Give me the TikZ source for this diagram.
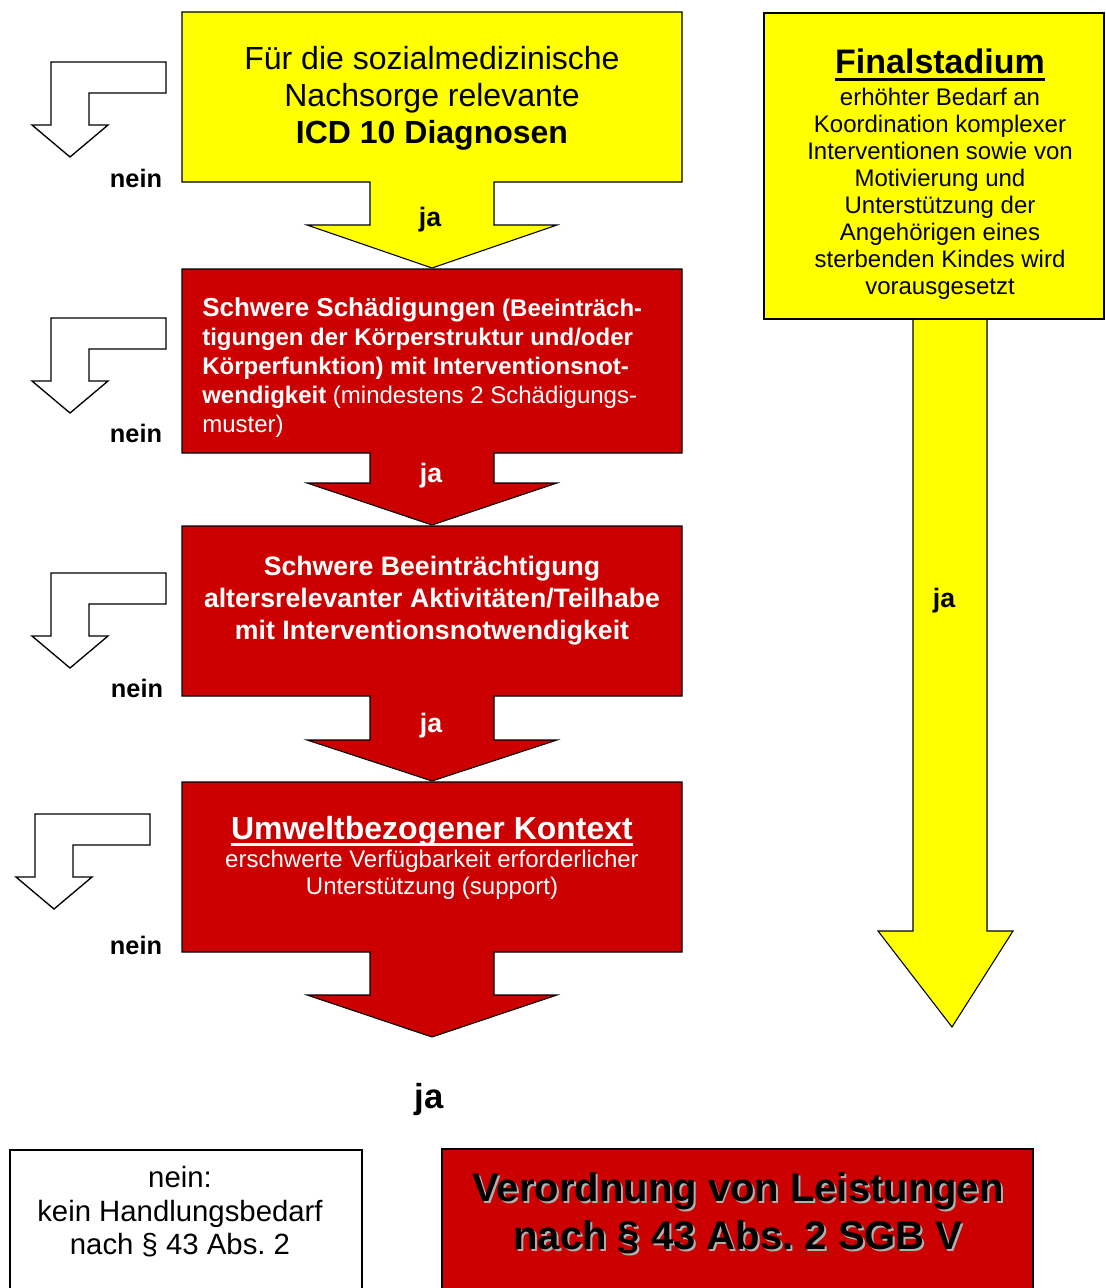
\documentclass[tikz,border=0pt]{standalone}
\usepackage{fontspec}
\setmainfont{Liberation Sans}
\definecolor{yel}{HTML}{FFFF00}
\definecolor{boxred}{HTML}{CC0000}
\definecolor{shadowgray}{HTML}{B0B0B0}
\newcommand\thickul[1]{\setbox0\hbox{#1}\rlap{\raisebox{-0.2em}{\rule{\wd0}{0.09em}}}\box0}
\frenchspacing
\begin{document}
\begin{tikzpicture}[x=0.75pt,y=-0.75pt,
  shapeline/.style={draw=black, line width=0.8pt, line join=miter},
  yshape/.style={shapeline, fill=yel},
  rshape/.style={shapeline, fill=boxred},
  bentarrow/.style={draw=black, line width=1pt, fill=white, line join=miter},
  txt/.style={inner sep=0pt, align=center},
  neinlbl/.style={inner sep=0pt, font=\fontsize{19}{22}\selectfont\bfseries},
  jalbl/.style={inner sep=0pt, font=\fontsize{20}{24}\selectfont\bfseries},
  wtxt/.style={txt, text=white}
]
\useasboundingbox (0,0) rectangle (1106,1288);

% ---- top yellow box with arrow
\path[yshape] (182,12) -- (682,12) -- (682,182) -- (494,182) -- (494,225) -- (557,225)
  -- (432,268) -- (307,225) -- (370,225) -- (370,182) -- (182,182) -- cycle;
% ---- red box 1
\path[rshape] (182,269) -- (682,269) -- (682,453) -- (494,453) -- (494,483) -- (557,483)
  -- (432,525) -- (307,483) -- (370,483) -- (370,453) -- (182,453) -- cycle;
% ---- red box 2
\path[rshape] (182,526) -- (682,526) -- (682,696) -- (494,696) -- (494,740) -- (557,740)
  -- (432,781) -- (307,740) -- (370,740) -- (370,696) -- (182,696) -- cycle;
% ---- red box 3
\path[rshape] (182,782) -- (682,782) -- (682,952) -- (494,952) -- (494,995) -- (557,995)
  -- (432,1037) -- (307,995) -- (370,995) -- (370,952) -- (182,952) -- cycle;

% ---- bent "nein" arrows
\foreach \sx/\sy in {0/0, 0/256, 0/511, -16/752}{
  \begin{scope}[shift={(\sx,\sy)}]
    \path[bentarrow] (51,62) -- (166,62) -- (166,93) -- (89,93) -- (89,125) -- (108,125)
      -- (70,157) -- (32,125) -- (51,125) -- cycle;
  \end{scope}
}

% ---- right yellow arrow and box
\path[yshape] (913,319) -- (987,319) -- (987,931) -- (1013,931) -- (952,1027)
  -- (878,931) -- (913,931) -- cycle;
\path[yshape] (764,13) rectangle (1104,319);

% ---- bottom boxes
\fill[white] (10,1150) rectangle (362,1288);
\draw[black, line width=0.8pt] (10,1288) -- (10,1150) -- (362,1150) -- (362,1288);
\fill[boxred] (442,1149) rectangle (1033,1288);
\draw[black, line width=0.8pt] (442,1288) -- (442,1149) -- (1033,1149) -- (1033,1288);
\draw[black, line width=2pt] (442,1149) -- (1033,1149);

% ---- texts
\node[txt, font=\fontsize{24}{27.75}\selectfont] (icd) at (432,98)
  {Für die sozialmedizinische\\Nachsorge relevante\\\textbf{ICD 10 Diagnosen}};
\node[jalbl] (ja1) at (430,220) {ja};
\node[neinlbl] (nein1) at (136,178) {nein};

\node[wtxt, align=left, anchor=west, font=\fontsize{18}{21.75}\selectfont] (sch) at (202,368)
  {\textbf{{\fontsize{19.5}{21.75}\selectfont Schwere Schädigungen} (Beeinträch-}\\
   \textbf{tigungen der Körperstruktur und/oder}\\
   \textbf{Körperfunktion) mit Interventionsnot-}\\
   \textbf{wendigkeit} (mindestens 2 Schädigungs-\\
   muster)};
\node[jalbl, text=white] (ja2) at (431,476) {ja};
\node[neinlbl] (nein2) at (136,433) {nein};

\node[wtxt, font=\fontsize{20}{24}\selectfont\bfseries] (akt) at (432,601)
  {Schwere Beeinträchtigung\\altersrelevanter Aktivitäten/Teilhabe\\mit Interventionsnotwendigkeit};
\node[jalbl, text=white] (ja3) at (431,726) {ja};
\node[neinlbl] (nein3) at (137,688) {nein};

\node[wtxt, font=\fontsize{24}{27}\selectfont\bfseries] (umw) at (432,831)
  {\thickul{Umweltbezogener Kontext}};
\node[wtxt, font=\fontsize{18}{20.25}\selectfont] (umwtxt) at (432,875)
  {erschwerte Verfügbarkeit erforderlicher\\Unterstützung (support)};
\node[neinlbl] (nein4) at (136,945) {nein};

\node[txt, font=\fontsize{26}{30}\selectfont\bfseries] (ja4) at (429,1100) {ja};

\node[txt, font=\fontsize{25.5}{28}\selectfont\bfseries] (fin) at (940,65)
  {\thickul{Finalstadium}};
\node[txt, font=\fontsize{18}{20.25}\selectfont] (fintxt) at (940,194)
  {erhöhter Bedarf an\\Koordination komplexer\\Interventionen sowie von\\Motivierung und\\Unterstützung der\\Angehörigen eines\\sterbenden Kindes wird\\vorausgesetzt};
\node[jalbl] (ja5) at (944,601) {ja};

\node[txt, font=\fontsize{22}{25.1}\selectfont] (neintxt) at (180,1212)
  {nein:\\kein Handlungsbedarf\\nach § 43 Abs. 2};

\node[txt, text=shadowgray, font=\fontsize{30}{36}\selectfont\bfseries] (verords) at (740,1215)
  {Verordnung von Leistungen\\nach § 43 Abs. 2 SGB V};
\node[txt, text=black, font=\fontsize{30}{36}\selectfont\bfseries] (verord) at (738,1213)
  {Verordnung von Leistungen\\nach § 43 Abs. 2 SGB V};
\end{tikzpicture}
\end{document}
